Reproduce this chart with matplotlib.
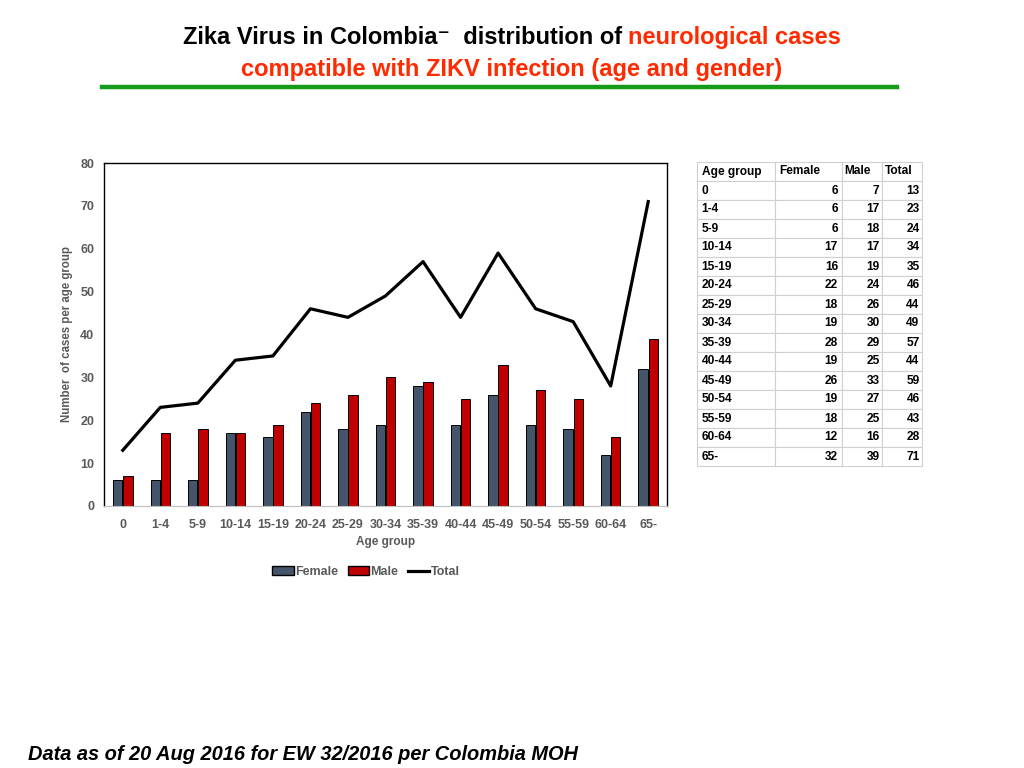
import matplotlib
matplotlib.use("Agg")
import matplotlib.pyplot as plt
from matplotlib.patches import Patch
from matplotlib.lines import Line2D
import numpy as np

plt.rcParams['font.family'] = ['Liberation Sans', 'DejaVu Sans']

age_groups = ['0', '1-4', '5-9', '10-14', '15-19', '20-24', '25-29', '30-34',
              '35-39', '40-44', '45-49', '50-54', '55-59', '60-64', '65-']
female = [6, 6, 6, 17, 16, 22, 18, 19, 28, 19, 26, 19, 18, 12, 32]
male = [7, 17, 18, 17, 19, 24, 26, 30, 29, 25, 33, 27, 25, 16, 39]
total = [13, 23, 24, 34, 35, 46, 44, 49, 57, 44, 59, 46, 43, 28, 71]

grey = '#595959'
c_female = '#44546A'
c_male = '#C00000'
red_title = '#FF2A00'

fig = plt.figure(figsize=(10.24, 7.68), dpi=100)

# ---- title ----
title_fs = 17
line1_black = 'Zika Virus in Colombia\u207b  distribution of '
line1_red = 'neurological cases'
fig.canvas.draw()
r = fig.canvas.get_renderer()
t1 = fig.text(0, 0, line1_black, fontsize=title_fs, fontweight='bold', va='baseline')
t2 = fig.text(0, 0, line1_red, fontsize=title_fs, fontweight='bold', va='baseline', color=red_title)
w1 = t1.get_window_extent(r).width / fig.bbox.width
w2 = t2.get_window_extent(r).width / fig.bbox.width
x0 = 0.5 - (w1 + w2) / 2
t1.set_position((x0, 1 - 44 / 768))
t2.set_position((x0 + w1, 1 - 44 / 768))
fig.text(0.5, 1 - 76 / 768, 'compatible with ZIKV infection (age and gender)',
         fontsize=title_fs, fontweight='bold', color=red_title, ha='center', va='baseline')
fig.add_artist(Line2D([102 / 1024, 897 / 1024], [1 - 87 / 768, 1 - 87 / 768],
                      color='#159A1A', linewidth=3.2))

# ---- chart ----
ax = fig.add_axes([104 / 1024, 1 - 506 / 768, 563 / 1024, 343 / 768])
x = np.arange(len(age_groups))
bw = 0.25
ax.bar(x - 0.135, female, bw, color=c_female, edgecolor='black', linewidth=0.7, label='Female', zorder=2)
ax.bar(x + 0.135, male, bw, color=c_male, edgecolor='black', linewidth=0.7, label='Male', zorder=2)
ax.plot(x, total, color='black', linewidth=2.3, label='Total', zorder=3)

ax.set_xlim(-0.5, len(age_groups) - 0.5)
ax.set_ylim(0, 80)
ax.set_yticks(range(0, 81, 10))
ax.set_xticks(x)
ax.set_xticklabels(age_groups)
ax.tick_params(length=0, labelsize=9, labelcolor=grey)
ax.tick_params(axis='x', pad=9)
ax.tick_params(axis='y', pad=7)
for lab in ax.get_xticklabels() + ax.get_yticklabels():
    lab.set_fontweight('bold')
for s in ['top', 'left', 'right']:
    ax.spines[s].set_color('black')
    ax.spines[s].set_linewidth(1.0)
ax.spines['bottom'].set_color('#BFBFBF')
ax.set_xlabel('Age group', fontsize=8.5, fontweight='bold', color=grey, labelpad=4)
ax.set_ylabel('Number  of cases per age group', fontsize=8.3, fontweight='bold', color=grey, labelpad=5)

handles = [Patch(facecolor=c_female, edgecolor='black'),
           Patch(facecolor=c_male, edgecolor='black'),
           Line2D([0], [0], color='black', linewidth=2.3)]
fig.legend(handles, ['Female', 'Male', 'Total'], loc='center', bbox_to_anchor=(366 / 1024, 1 - 572 / 768),
           ncol=3, frameon=False, prop={'weight': 'bold', 'size': 9},
           handlelength=1.7, handletextpad=0.1, columnspacing=0.8, labelcolor=grey)

# ---- table ----
tax = fig.add_axes([697 / 1024, 1 - 466 / 768, 225 / 1024, 304 / 768])
tax.axis('off')
cells = [[g, str(f), str(m), str(t)] for g, f, m, t in zip(age_groups, female, male, total)]
tbl = tax.table(cellText=cells, colLabels=['Age group', 'Female', 'Male', 'Total'],
                colWidths=[78, 67, 40, 40], bbox=[0, 0, 1, 1])
tbl.auto_set_font_size(False)
for (row, col), cell in tbl.get_celld().items():
    cell.set_edgecolor('#D0D0D0')
    cell.set_linewidth(0.8)
    cell.get_text().set_fontsize(8.6)
    cell.get_text().set_fontweight('bold')
    if row == 0 or col == 0:
        cell.set_text_props(ha='left')
    else:
        cell.set_text_props(ha='right')
    cell.PAD = 0.06

# ---- footer ----
fig.text(28 / 1024, 1 - 755 / 768, 'Data as of 20 Aug 2016 for EW 32/2016 per Colombia MOH',
         fontsize=14.4, fontweight='bold', fontstyle='italic', va='center')

fig.savefig('out.png', dpi=100)
